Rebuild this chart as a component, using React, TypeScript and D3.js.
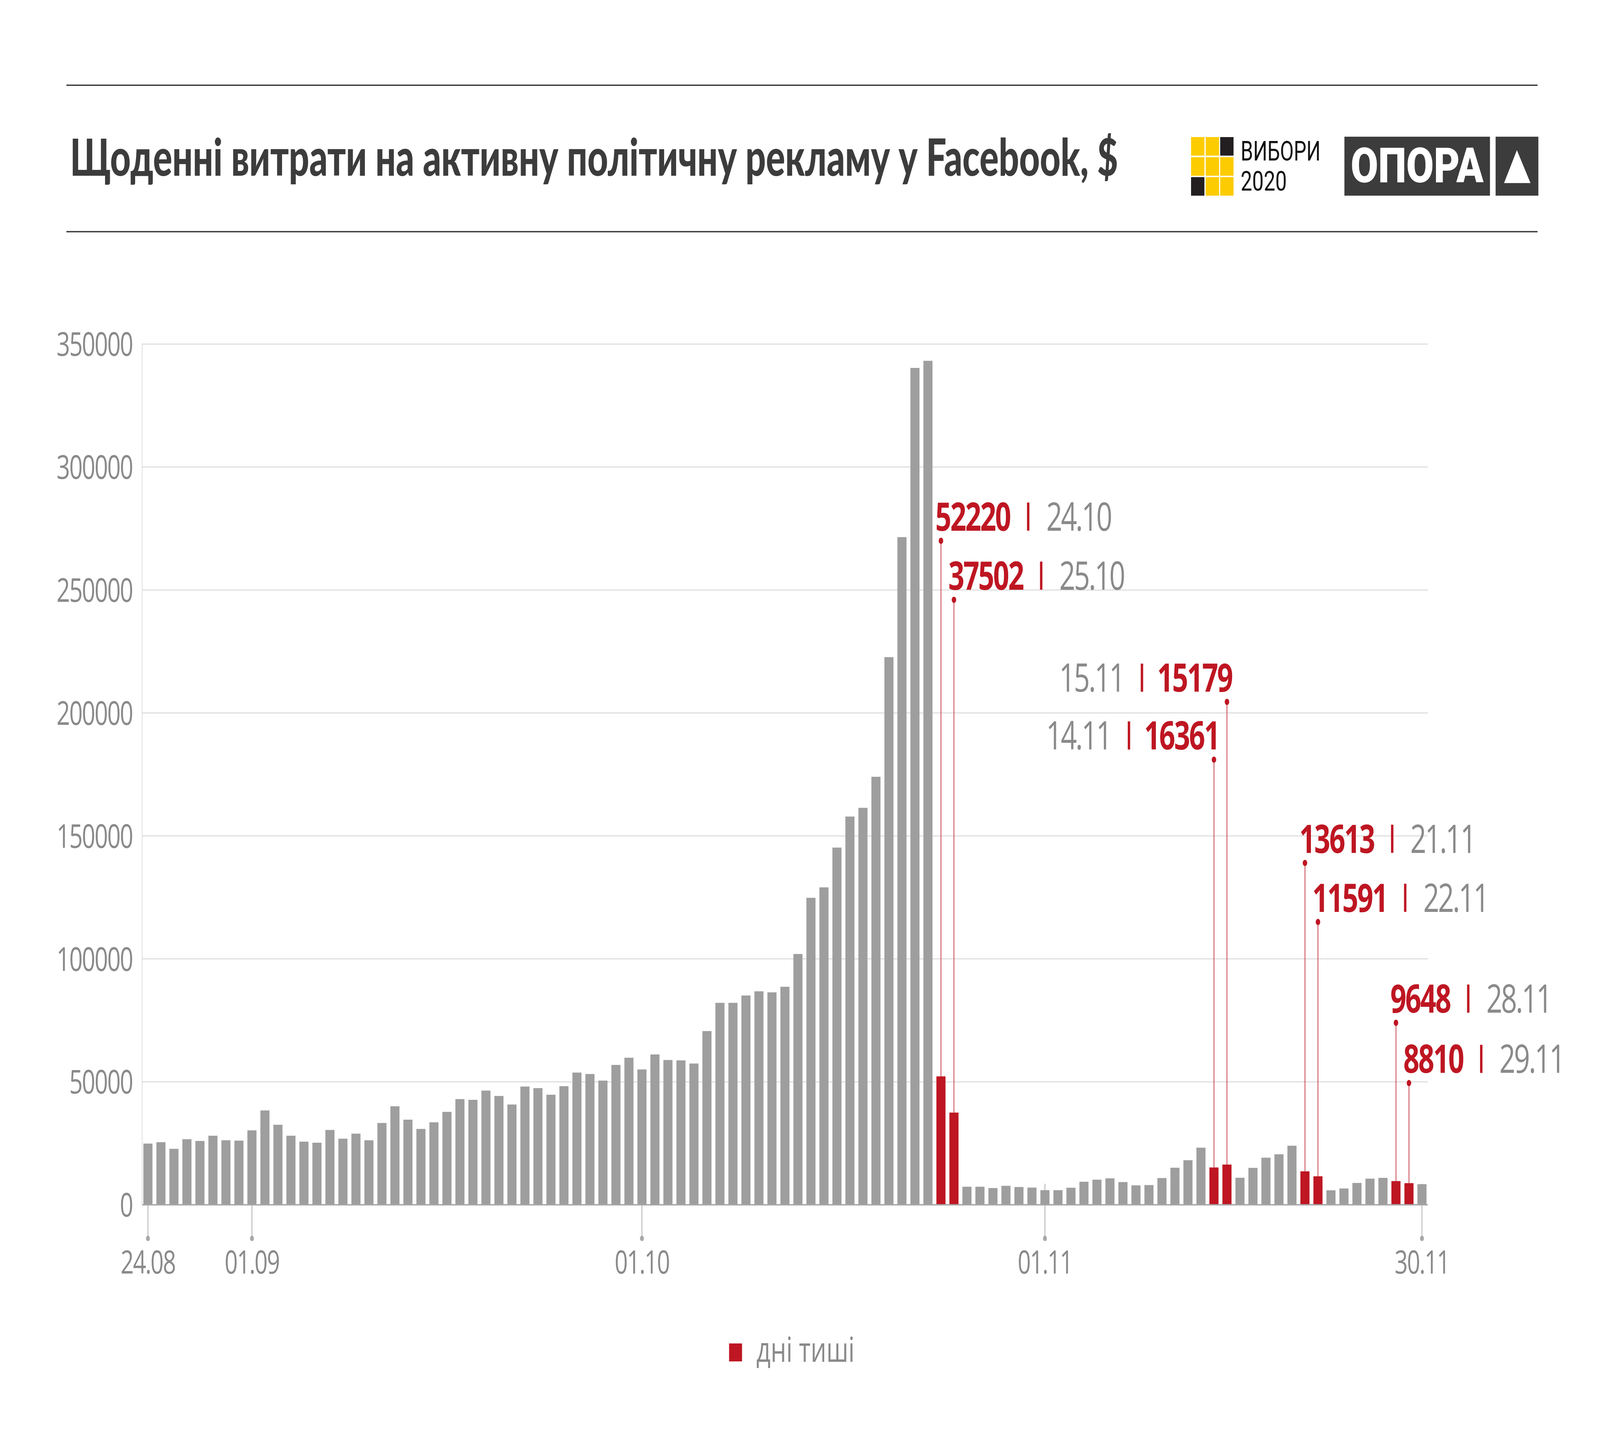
import React, { useEffect, useRef } from "react";
import * as d3 from "d3";

const DAYS: string[] = [
  "24.08","25.08","26.08","27.08","28.08","29.08","30.08","31.08",
  "01.09","02.09","03.09","04.09","05.09","06.09","07.09","08.09","09.09","10.09",
  "11.09","12.09","13.09","14.09","15.09","16.09","17.09","18.09","19.09","20.09",
  "21.09","22.09","23.09","24.09","25.09","26.09","27.09","28.09","29.09","30.09",
  "01.10","02.10","03.10","04.10","05.10","06.10","07.10","08.10","09.10","10.10",
  "11.10","12.10","13.10","14.10","15.10","16.10","17.10","18.10","19.10","20.10",
  "21.10","22.10","23.10","24.10","25.10","26.10","27.10","28.10","29.10","30.10","31.10",
  "01.11","02.11","03.11","04.11","05.11","06.11","07.11","08.11","09.11","10.11",
  "11.11","12.11","13.11","14.11","15.11","16.11","17.11","18.11","19.11","20.11",
  "21.11","22.11","23.11","24.11","25.11","26.11","27.11","28.11","29.11","30.11",
];

const SPEND: number[] = [
  24900, 25460, 22770, 26670, 25960, 28090, 26240, 26100,
  30280, 38370, 32550, 28090, 25680, 25250, 30430, 26880, 28940, 26240,
  33270, 40070, 34620, 30860, 33550, 37800, 42980, 42690, 46450, 44260,
  40780, 48090, 47450, 44760, 48230, 53770, 53190, 50500, 56880, 59800,
  55040, 61140, 58870, 58730, 57450, 70640, 82130, 82130, 85110, 86810,
  86390, 88660, 101990, 124830, 129080, 145250, 157880, 161420, 174050, 222700,
  271500, 340300, 343200, 52220, 37502, 7350, 7350, 6810, 7720, 7230, 7000,
  5960, 5960, 6940, 9370, 10220, 10760, 9250, 7910, 8030, 10880,
  15080, 18130, 23230, 15179, 16361, 11010, 15020, 19160, 20550, 24020,
  13613, 11591, 5900, 6630, 8880, 10640, 10950, 9648, 8810, 8390,
];

const SILENCE_DAYS: string[] = ["24.10", "25.10", "14.11", "15.11", "21.11", "22.11", "28.11", "29.11"];

const X_TICKS: string[] = ["24.08", "01.09", "01.10", "01.11", "30.11"];
const Y_TICKS: number[] = [0, 50000, 100000, 150000, 200000, 250000, 300000, 350000];

// annotation: bar date, shown number, shown date, label side, label level (data units)
const ANN_DATE: string[] = ["24.10", "25.10", "15.11", "14.11", "21.11", "22.11", "28.11", "29.11"];
const ANN_NUMBER: string[] = ["52220", "37502", "15179", "16361", "13613", "11591", "9648", "8810"];
const ANN_LABEL: string[] = ["24.10", "25.10", "15.11", "14.11", "21.11", "22.11", "28.11", "29.11"];
const ANN_SIDE: string[] = ["right", "right", "left", "left", "right", "right", "right", "right"];
const ANN_LEVEL: number[] = [270000, 246000, 204500, 181000, 139000, 115000, 74000, 49500];

const TITLE = "Щоденні витрати на активну політичну рекламу у Facebook, $";
const LEGEND_LABEL = "дні тиші";

const W = 5686;
const H = 3677;
const RED = "#be1622";
const BAR_GREY = "#9e9e9e";
const TEXT_GREY = "#8a8a8a";
const DARK = "#3c3c3c";
const SANS = "'Open Sans', 'Noto Sans', sans-serif";

export default function App() {
  const ref = useRef<SVGSVGElement | null>(null);

  useEffect(() => {
    document.body.style.margin = "0";
    const svg = d3.select(ref.current);
    svg.selectAll("*").remove();

    svg.append("rect").attr("width", W).attr("height", H).attr("fill", "#ffffff");

    const x = d3.scaleBand<string>().domain(DAYS).range([502.6, 5076.4]).paddingInner(0.3).paddingOuter(0.15);
    const y = d3.scaleLinear().domain([0, 350000]).range([3085, 881]);
    const bw = x.bandwidth();
    const cx = (d: string) => (x(d) as number) + bw / 2;
    const left = 505;
    const right = 5074;

    // header rules
    svg.append("rect").attr("x", 236).attr("y", 216.5).attr("width", 5228).attr("height", 3.5).attr("fill", DARK);
    svg.append("rect").attr("x", 236).attr("y", 591.5).attr("width", 5228).attr("height", 3.5).attr("fill", DARK);

    // title
    svg.append("text")
      .attr("x", 249).attr("y", 450)
      .attr("font-family", "Lato, 'Open Sans', sans-serif")
      .attr("font-weight", 900)
      .attr("font-size", 131)
      .attr("fill", DARK)
      .attr("textLength", 3724)
      .attr("lengthAdjust", "spacingAndGlyphs")
      .text(TITLE);

    // ВИБОРИ 2020 logo
    const cellX = [4232.7, 4284.7, 4336.2];
    const cellY = [351, 402.5, 453.5];
    const pattern = [
      ["#fccc00", "#fccc00", "#231f20"],
      ["#fccc00", "#fccc00", "#fccc00"],
      ["#231f20", "#fccc00", "#fccc00"],
    ];
    pattern.forEach((row, r) =>
      row.forEach((c, k) => {
        svg.append("rect").attr("x", cellX[k]).attr("y", cellY[r]).attr("width", 47.5).attr("height", 47.5).attr("fill", c);
      })
    );
    svg.append("text").attr("x", 4409).attr("y", 411.5)
      .attr("font-family", "Roboto, sans-serif").attr("font-size", 70).attr("fill", "#111")
      .attr("textLength", 284).attr("lengthAdjust", "spacingAndGlyphs").text("ВИБОРИ");
    svg.append("text").attr("x", 4409).attr("y", 488)
      .attr("font-family", "Roboto, sans-serif").attr("font-size", 70).attr("fill", "#111")
      .attr("textLength", 164).attr("lengthAdjust", "spacingAndGlyphs").text("2020");

    // ОПОРА logo
    svg.append("rect").attr("x", 4777.7).attr("y", 350).attr("width", 517.3).attr("height", 151).attr("fill", DARK);
    svg.append("rect").attr("x", 5315).attr("y", 350).attr("width", 152).attr("height", 151).attr("fill", DARK);
    svg.append("text").attr("x", 4800).attr("y", 467.5)
      .attr("font-family", "Roboto, sans-serif").attr("font-weight", 900).attr("font-size", 124).attr("fill", "#fff")
      .attr("textLength", 472).attr("lengthAdjust", "spacingAndGlyphs").text("ОПОРА");
    svg.append("path").attr("d", "M5390.7,384.6 L5439,468.8 L5345,468.8 Z").attr("fill", "#fff");

    // gridlines
    svg.append("g").selectAll("line").data(Y_TICKS.filter((t) => t > 0)).join("line")
      .attr("x1", left).attr("x2", right)
      .attr("y1", (d) => y(d)).attr("y2", (d) => y(d))
      .attr("stroke", "#d2d2d2").attr("stroke-width", 2);
    svg.append("line").attr("x1", left).attr("x2", left).attr("y1", y(350000)).attr("y2", y(0))
      .attr("stroke", "#d2d2d2").attr("stroke-width", 2);

    // y labels
    svg.append("g").selectAll("text").data(Y_TICKS).join("text")
      .attr("x", 471).attr("y", (d) => y(d)).attr("dy", "0.36em")
      .attr("text-anchor", "end")
      .attr("font-family", SANS).attr("font-size", 84).attr("letter-spacing", -3)
      .attr("fill", TEXT_GREY)
      .text((d) => String(d));

    // x ticks (behind bars)
    const xt = svg.append("g");
    X_TICKS.forEach((d) => {
      xt.append("line").attr("x1", cx(d)).attr("x2", cx(d)).attr("y1", y(0) - 54).attr("y2", 3171)
        .attr("stroke", "#a8a8a8").attr("stroke-width", 2.5);
      xt.append("circle").attr("cx", cx(d)).attr("cy", 3171).attr("r", 7).attr("fill", "#a8a8a8");
      xt.append("text").attr("x", cx(d)).attr("y", 3261).attr("text-anchor", "middle")
        .attr("font-family", SANS).attr("font-size", 82).attr("letter-spacing", -3)
        .attr("fill", TEXT_GREY).text(d);
    });

    // bars
    svg.append("g").selectAll("rect").data(DAYS).join("rect")
      .attr("x", (d) => x(d) as number)
      .attr("width", bw)
      .attr("y", (d, i) => y(SPEND[i]))
      .attr("height", (d, i) => y(0) - y(SPEND[i]))
      .attr("fill", (d) => (SILENCE_DAYS.includes(d) ? RED : BAR_GREY));

    // baseline
    svg.append("line").attr("x1", left).attr("x2", right).attr("y1", y(0)).attr("y2", y(0))
      .attr("stroke", "#a6a6a6").attr("stroke-width", 3.5);

    // annotations
    const ann = svg.append("g");
    ANN_DATE.forEach((d, k) => {
      const i = DAYS.indexOf(d);
      const px = cx(d);
      const dotY = y(ANN_LEVEL[k]);
      ann.append("line").attr("x1", px).attr("x2", px).attr("y1", y(SPEND[i])).attr("y2", dotY)
        .attr("stroke", RED).attr("stroke-width", 2.2);
      ann.append("circle").attr("cx", px).attr("cy", dotY).attr("r", 8).attr("fill", RED);
      const base = dotY - 26;
      const gap = 60;
      const sepW = 8.5;
      const sepH = 72;
      const num = ann.append("text").attr("y", base)
        .attr("font-family", SANS).attr("font-weight", 700).attr("font-size", 100).attr("letter-spacing", -4)
        .attr("fill", RED).text(ANN_NUMBER[k]);
      const dateT = ann.append("text").attr("y", base)
        .attr("font-family", SANS).attr("font-weight", 400).attr("font-size", 100).attr("letter-spacing", -5)
        .attr("fill", TEXT_GREY).text(ANN_LABEL[k]);
      const numW = (num.node() as SVGTextElement).getComputedTextLength();
      if (ANN_SIDE[k] === "right") {
        const sx = px - 20;
        num.attr("x", sx).attr("text-anchor", "start");
        const sepX = sx + numW + gap;
        ann.append("rect").attr("x", sepX).attr("y", base - sepH).attr("width", sepW).attr("height", sepH).attr("fill", RED);
        dateT.attr("x", sepX + sepW + gap).attr("text-anchor", "start");
      } else {
        const ex = px + 18;
        num.attr("x", ex).attr("text-anchor", "end");
        const sepX = ex - numW - gap - sepW + 10;
        ann.append("rect").attr("x", sepX).attr("y", base - sepH).attr("width", sepW).attr("height", sepH).attr("fill", RED);
        dateT.attr("x", sepX - gap).attr("text-anchor", "end");
      }
    });

    // legend
    svg.append("rect").attr("x", 2591).attr("y", 3440).attr("width", 46).attr("height", 46).attr("fill", RED);
    svg.append("text").attr("x", 2688).attr("y", 3487)
      .attr("font-family", SANS).attr("font-size", 88).attr("fill", TEXT_GREY).text(LEGEND_LABEL);
  }, []);

  return (
    <svg ref={ref} viewBox={`0 0 ${W} ${H}`} preserveAspectRatio="none"
      style={{ display: "block", width: "100vw", height: "100vh" }} />
  );
}
